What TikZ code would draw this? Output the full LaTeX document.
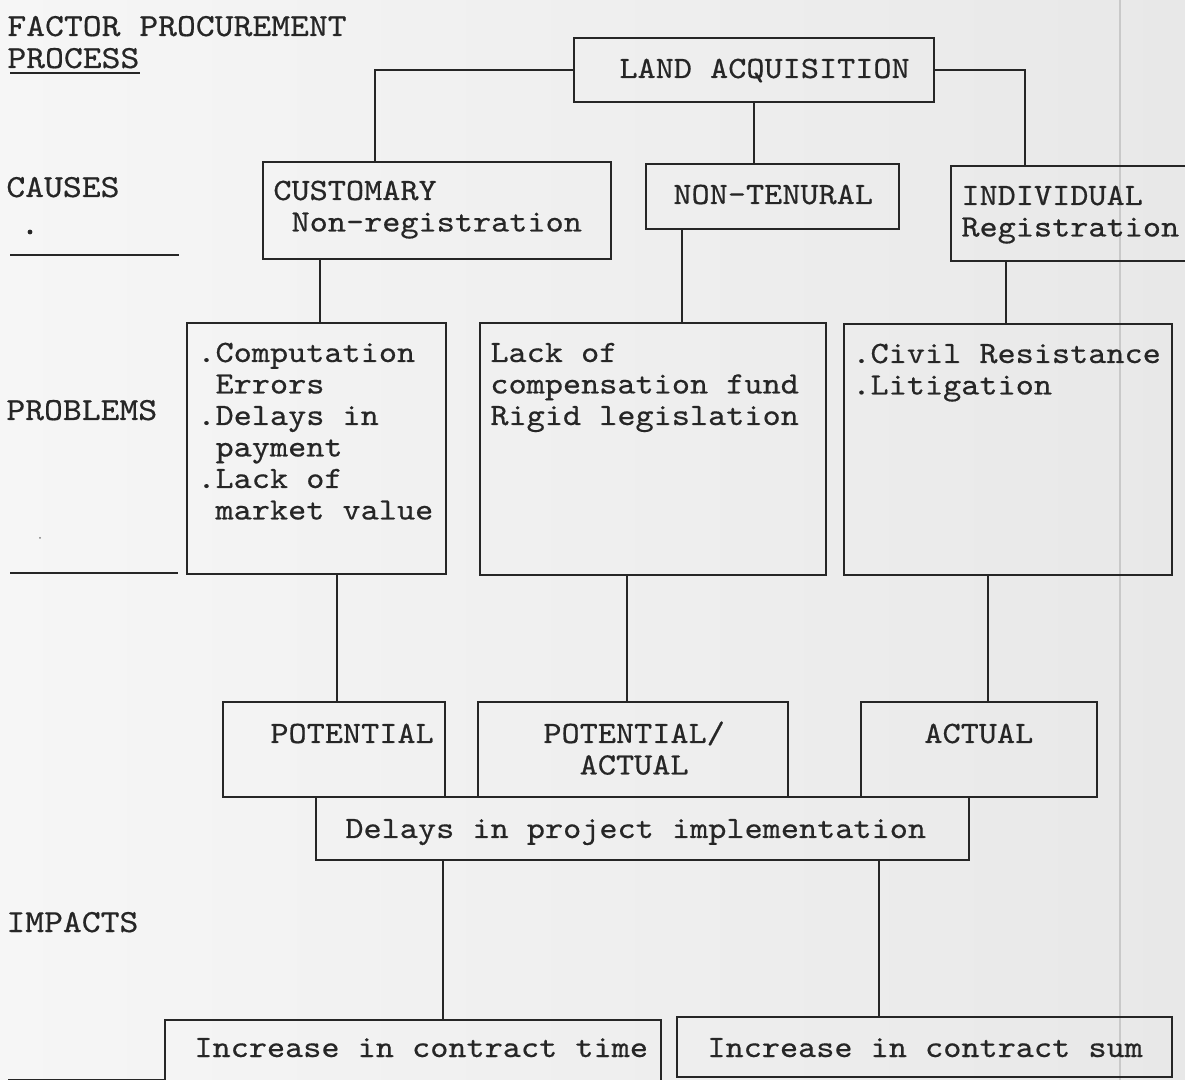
\documentclass[tikz,border=0pt]{standalone}
\usepackage{fontspec}
\usetikzlibrary{fit}
% typewriter face, widened to a 10-pitch look and inked a little heavier
\newfontfamily\typewriter{lmmono10-regular.otf}[FakeStretch=1.115,FakeBold=0.5]
\definecolor{ink}{HTML}{262626}
\definecolor{paperL}{HTML}{F6F6F6}
\definecolor{paperR}{HTML}{E8E8E8}
\definecolor{crease}{HTML}{C9C9C9}
% left-aligned stack of lines whose baseline is the first line
\newcommand\rows[1]{\begin{tabular}[t]{@{}l@{}}#1\end{tabular}}

\begin{document}
\begin{tikzpicture}[x=0.5pt,y=-0.5pt,
  boxed/.style={draw=ink,line width=0.9pt,inner sep=0pt,rectangle},
  txt/.style={inner sep=0pt,anchor=base west,text=ink,
    font=\typewriter\fontsize{15.5}{15.75}\selectfont},
  heading/.style={txt,font=\typewriter\fontsize{16.1}{15.75}\selectfont},
  link/.style={draw=ink,line width=0.9pt},
  rule/.style={draw=ink,line width=0.9pt}]

% paper
\shade[left color=paperL,right color=paperR] (0,0) rectangle (1185,1080);
\useasboundingbox (0,0) rectangle (1185,1080);
\draw[crease,line width=0.9pt] (1120,0) -- (1120,1080);

% side headings
\node[heading] (t-fpp) at (7,36) {FACTOR PROCUREMENT};
\node[heading] (t-proc) at (7,68) {PROCESS};
\draw[rule] (10,73) -- (140,73);
\node[heading] (t-causes) at (6,197) {CAUSES};
\fill[ink] (30,232) circle (1.2pt);
\draw[rule] (10,255) -- (179,255);
\node[heading] (t-problems) at (6,420) {PROBLEMS};
\fill[ink!60] (40,538) circle (0.5pt);
\draw[rule] (10,573) -- (178,573);
\node[heading] (t-impacts) at (6,932) {IMPACTS};
\draw[rule] (8,1080) -- (165,1080);

% boxes
\node[boxed,fit={(574,38) (934,102)}] (land) {};
\node[boxed,fit={(263,162) (611,259)}] (cust) {};
\node[boxed,fit={(646,164) (899,229)}] (nont) {};
\node[boxed,fit={(951,166) (1200,261)}] (indiv) {};
\node[boxed,fit={(187,323) (446,574)}] (b1) {};
\node[boxed,fit={(480,323) (826,575)}] (b2) {};
\node[boxed,fit={(844,324) (1172,575)}] (b3) {};
\node[boxed,fit={(223,702) (445,797)}] (pot) {};
\node[boxed,fit={(478,702) (788,797)}] (potact) {};
\node[boxed,fit={(861,702) (1097,797)}] (actual) {};
\node[boxed,fit={(316,797) (969,860)}] (delays) {};
\node[boxed,fit={(165,1020) (661,1090)}] (inctime) {};
\node[boxed,fit={(677,1017) (1172,1077)}] (incsum) {};

% box texts
\node[txt] (t-land) at (619,78) {LAND ACQUISITION};
\node[txt] (t-cust) at (273,200) {\rows{CUSTOMARY\\~Non-registration}};
\node[txt] (t-nont) at (673,204) {NON-TENURAL};
\node[txt] (t-indiv) at (961,205) {\rows{INDIVIDUAL\\Registration}};
\node[txt] (t-b1) at (197,362) {\rows{.Computation\\~Errors\\.Delays in\\~payment\\.Lack of\\~market value}};
\node[txt] (t-b2) at (490,362) {\rows{Lack of\\compensation fund\\Rigid legislation}};
\node[txt] (t-b3) at (852,363) {\rows{.Civil Resistance\\.Litigation}};
\node[txt] (t-pot) at (270,743) {POTENTIAL};
\node[txt] (t-potact) at (543,743) {\rows{POTENTIAL/\\~~ACTUAL}};
\node[txt] (t-act) at (924,743) {ACTUAL};
\node[txt] (t-delays) at (345,838) {Delays in project implementation};
\node[txt] (t-time) at (194,1057) {Increase in contract time};
\node[txt] (t-sum) at (707,1057) {Increase in contract sum};

% connector columns
\coordinate (cx1) at (375,0);
\coordinate (cx2) at (1025,0);
\coordinate (cx3) at (320,0);
\coordinate (cx4) at (682,0);
\coordinate (cx5) at (1006,0);
\coordinate (cx6) at (337,0);
\coordinate (cx7) at (627,0);
\coordinate (cx8) at (988,0);
\coordinate (cx9) at (443,0);
\coordinate (cx10) at (879,0);

% connectors
\draw[link] (land.west) -| (cx1 |- cust.north);
\draw[link] (land.south) -- (land.south |- nont.north);
\draw[link] (land.east) -| (cx2 |- indiv.north);
\draw[link] (cx3 |- cust.south) -- (cx3 |- b1.north);
\draw[link] (cx4 |- nont.south) -- (cx4 |- b2.north);
\draw[link] (cx5 |- indiv.south) -- (cx5 |- b3.north);
\draw[link] (cx6 |- b1.south) -- (cx6 |- pot.north);
\draw[link] (cx7 |- b2.south) -- (cx7 |- potact.north);
\draw[link] (cx8 |- b3.south) -- (cx8 |- actual.north);
\draw[link] (cx9 |- delays.south) -- (cx9 |- inctime.north);
\draw[link] (cx10 |- delays.south) -- (cx10 |- incsum.north);
\end{tikzpicture}
\end{document}
